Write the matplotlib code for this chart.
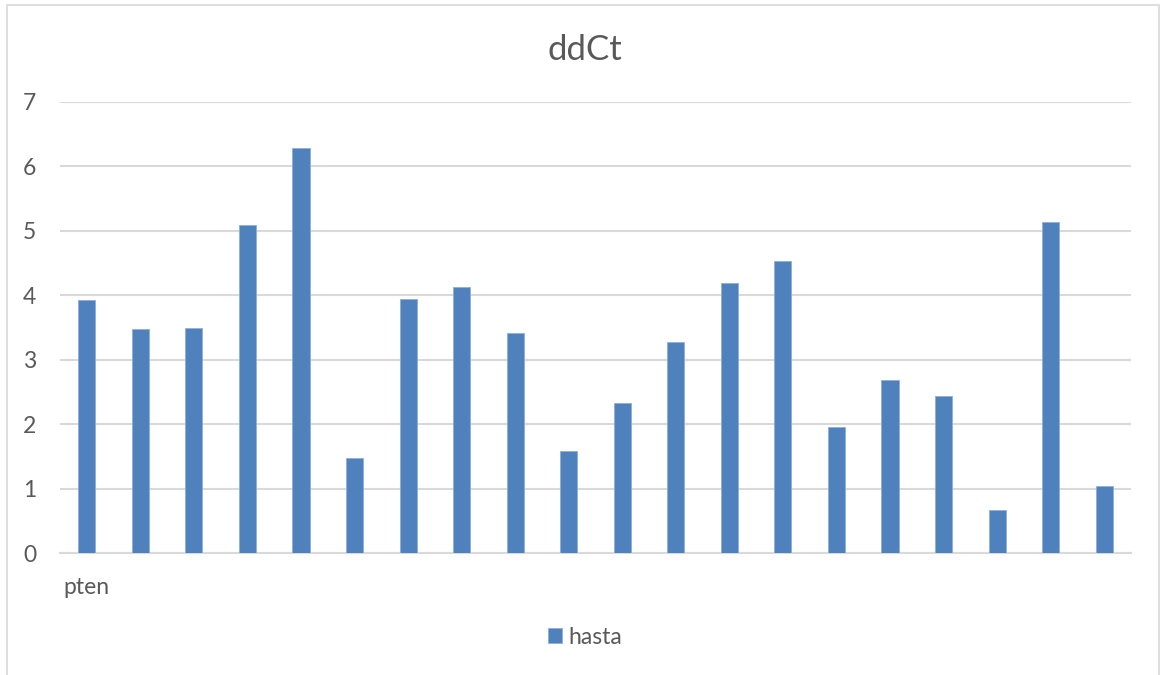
import matplotlib
matplotlib.use('Agg')
import matplotlib.pyplot as plt
from matplotlib.patches import Rectangle

# Data
category = "pten"
series_name = "hasta"
values = [3.93, 3.48, 3.50, 5.09, 6.28, 1.48, 3.95, 4.13, 3.41, 1.58,
          2.33, 3.27, 4.19, 4.53, 1.95, 2.69, 2.44, 0.66, 5.14, 1.04]
y_ticks = [0, 1, 2, 3, 4, 5, 6, 7]

plt.rcParams['font.family'] = ['Lato', 'DejaVu Sans']
text_color = '#595959'
bar_color = '#4F81BD'
grid_color = '#D9D9D9'

fig = plt.figure(figsize=(11.61, 6.75), dpi=100)
ax = fig.add_axes([60 / 1161, 1 - 553 / 675, (1131 - 60) / 1161, (553 - 102) / 675])

# Chart area border
fig.patches.append(Rectangle((7 / 1161, -0.05), (1159 - 7) / 1161, 1.05 - 5 / 675,
                             transform=fig.transFigure, fill=False,
                             edgecolor=grid_color, linewidth=1.2))

x = list(range(len(values)))
bars = ax.bar(x, values, width=0.32, color=bar_color,
              edgecolor='#8EAEDB', linewidth=0.6, zorder=3, label=series_name)

ax.set_xlim(-0.5, len(values) - 0.5)
ax.set_ylim(0, 7)
ax.set_yticks(y_ticks)
ax.set_yticklabels([str(t) for t in y_ticks], color=text_color, fontsize=16.5)
ax.set_xticks([])
ax.tick_params(axis='y', length=0, pad=17)

# Gridlines
ax.grid(axis='y', color=grid_color, linewidth=1.5, zorder=0)
for side in ['top', 'right', 'left']:
    ax.spines[side].set_visible(False)
ax.spines['bottom'].set_color(grid_color)
ax.spines['bottom'].set_linewidth(1.5)

# Category label
ax.text(-0.44, -0.38, category, ha='left', va='top', fontsize=16.5,
        color=text_color, transform=ax.transData)

# Title
fig.text(585 / 1161, 1 - 50 / 675, 'ddCt', ha='center', va='center',
         fontsize=25, color=text_color)

# Legend
leg = fig.legend(handles=[bars], labels=[series_name], loc='center',
                 bbox_to_anchor=(585 / 1161, 1 - 637 / 675), frameon=False,
                 fontsize=16.5, handlelength=0.6, handleheight=0.6,
                 handletextpad=0.3)
for t in leg.get_texts():
    t.set_color(text_color)

plt.savefig('out.png', dpi=100)
